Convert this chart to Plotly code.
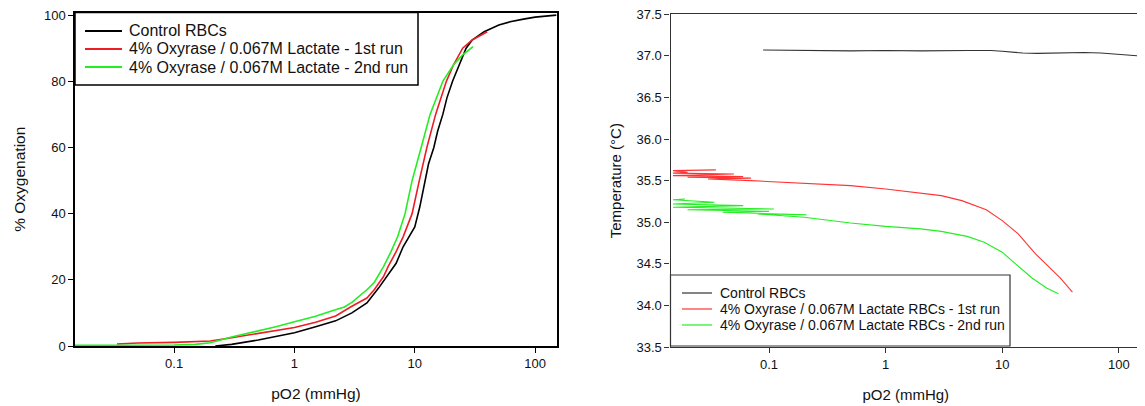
import plotly.graph_objects as go

# ---------------- Left panel: oxygen dissociation curves ----------------
ctrl_po2 = [0.22, 0.3, 0.5, 0.7, 1.0, 1.5, 2.2, 3.0, 4.0, 5.0, 6.0, 7.0, 8.0, 9.0, 10.0,
            11.0, 12.1, 13.0, 14.4, 15.5, 17.1, 18.5, 20.6, 23.3, 26.7, 30.0, 37.7,
            50.0, 62.0, 80.0, 100.0, 150.0]
ctrl_sat = [0.0, 0.5, 1.8, 2.8, 4.0, 5.8, 7.6, 10.0, 13.0, 17.5, 21.5, 25.0, 30.0, 33.0, 36.0,
            42.0, 50.0, 55.0, 60.0, 65.0, 70.0, 75.0, 80.0, 85.0, 90.0, 92.5, 95.0,
            97.0, 98.0, 98.8, 99.4, 100.0]

run1_po2 = [0.0335, 0.05, 0.1, 0.144, 0.2, 0.3, 0.5, 0.7, 1.0, 1.5, 2.2, 3.0, 4.0, 4.6,
            5.5, 6.0, 7.0, 8.0, 9.5, 10.9, 12.6, 14.9, 18.3, 21.0, 25.0, 30.0, 40.0]
run1_sat = [0.6, 0.9, 1.1, 1.3, 1.5, 2.5, 3.8, 4.8, 5.6, 7.2, 9.1, 12.0, 14.5, 17.0,
            21.0, 24.0, 28.5, 33.0, 40.0, 50.0, 60.0, 70.0, 80.0, 85.0, 90.0, 92.5, 95.0]

run2_po2 = [0.015, 0.05, 0.1, 0.15, 0.2, 0.3, 0.5, 0.7, 1.0, 1.5, 2.0, 2.6, 3.0, 4.0,
            4.6, 5.5, 6.3, 7.2, 8.3, 9.5, 11.3, 13.4, 17.1, 21.0, 25.0, 30.5]
run2_sat = [0.2, 0.2, 0.3, 0.5, 1.0, 2.7, 4.5, 5.8, 7.3, 9.0, 10.5, 11.8, 13.2, 17.0,
            19.2, 24.0, 28.3, 33.0, 40.0, 50.0, 60.0, 70.0, 80.0, 85.0, 88.0, 90.5]

# ---------------- Right panel: temperature vs pO2 ----------------
ctrl_t_po2 = [0.089, 0.2, 0.5, 1.0, 2.0, 5.0, 8.0, 10.0, 15.0, 20.0, 30.0, 50.0, 70.0, 100.0, 150.0]
ctrl_temp = [37.07, 37.065, 37.06, 37.065, 37.06, 37.065, 37.065, 37.055, 37.035, 37.03,
             37.035, 37.04, 37.035, 37.02, 37.0]

run1_t_po2 = [0.035, 0.015, 0.02, 0.015, 0.05, 0.015, 0.06, 0.02, 0.07, 0.03, 0.07, 0.1,
              0.2, 0.5, 1.0, 2.0, 3.0, 4.5, 6.0, 7.3, 10.0, 13.7, 19.3, 25.7, 31.4, 40.0]
run1_temp = [35.63, 35.62, 35.6, 35.59, 35.58, 35.56, 35.55, 35.54, 35.53, 35.52, 35.5, 35.49,
             35.47, 35.44, 35.4, 35.35, 35.32, 35.26, 35.2, 35.15, 35.02, 34.86, 34.62, 34.45,
             34.33, 34.16]

run2_t_po2 = [0.019, 0.015, 0.034, 0.015, 0.06, 0.015, 0.11, 0.02, 0.1, 0.04, 0.21, 0.08,
              0.2, 0.3, 0.5, 1.0, 2.0, 3.0, 5.0, 7.0, 10.0, 13.0, 18.0, 24.0, 30.3]
run2_temp = [35.28, 35.27, 35.24, 35.22, 35.2, 35.18, 35.16, 35.15, 35.13, 35.12, 35.09, 35.1,
             35.06, 35.03, 34.99, 34.95, 34.92, 34.89, 34.83, 34.76, 34.64, 34.5, 34.33,
             34.21, 34.14]

left_names = ["Control RBCs",
              "4% Oxyrase / 0.067M Lactate - 1st run",
              "4% Oxyrase / 0.067M Lactate - 2nd run"]
right_names = ["Control RBCs",
               "4% Oxyrase / 0.067M Lactate RBCs - 1st run",
               "4% Oxyrase / 0.067M Lactate RBCs - 2nd run"]

colors = ["#000000", "#ee1c24", "#22ee22"]
colors_r = ["#333333", "#ff3333", "#22ee22"]

# page has an 8px body margin: figure drawn 8px in from the top-left of the window
OFF = 8
W, H = 1145 - OFF, 406 - OFF
FONT = "Liberation Sans, Arial, sans-serif"


def px(x):
    return (x - OFF) / W


def py(y):
    return 1 - (y - OFF) / H


fig = go.Figure()
for xs, ys, name, c in zip([ctrl_po2, run1_po2, run2_po2],
                           [ctrl_sat, run1_sat, run2_sat], left_names, colors):
    fig.add_trace(go.Scatter(x=xs, y=ys, mode="lines", name=name, showlegend=False,
                             line=dict(color=c, width=1.6),
                             xaxis="x", yaxis="y"))
for xs, ys, name, c in zip([ctrl_t_po2, run1_t_po2, run2_t_po2],
                           [ctrl_temp, run1_temp, run2_temp], right_names, colors_r):
    fig.add_trace(go.Scatter(x=xs, y=ys, mode="lines", name=name, showlegend=False,
                             line=dict(color=c, width=1.1),
                             xaxis="x2", yaxis="y2"))

xticks = [0.1, 1, 10, 100]
xtext = ["0.1", "1", "10", "100"]

common_x = dict(type="log", tickvals=xticks, ticktext=xtext, ticks="outside", ticklen=5,
                showgrid=False, zeroline=False, showline=True, mirror=True, automargin=False,
                ticklabeloverflow="allow")

# ----- legends (drawn as framed boxes with line samples and text) -----
shapes = []
annotations = []


def add_legend(box, x0_line, x1_line, x_text, ys, names, cols, fsize, bcolor, bwidth, lw):
    bx0, by0, bx1, by1 = box
    shapes.append(dict(type="rect", xref="paper", yref="paper",
                       x0=px(bx0), x1=px(bx1), y0=py(by1), y1=py(by0),
                       line=dict(color=bcolor, width=bwidth), fillcolor="white", layer="above"))
    for yy, nm, cc in zip(ys, names, cols):
        shapes.append(dict(type="line", xref="paper", yref="paper",
                           x0=px(x0_line), x1=px(x1_line), y0=py(yy), y1=py(yy),
                           line=dict(color=cc, width=lw), layer="above"))
        annotations.append(dict(text=nm, xref="paper", yref="paper", x=px(x_text), y=py(yy),
                                xanchor="left", yanchor="middle", showarrow=False,
                                font=dict(size=fsize, family=FONT, color="#111111")))


add_legend((75, 12.5, 418, 85), 85, 122, 127, [31, 49, 67], left_names, colors,
           16, "black", 1.5, 1.8)
add_legend((670.5, 275, 1010, 346), 682, 712, 718, [293, 309, 325], right_names, colors_r,
           14, "#333333", 1.2, 1.2)

fig.update_layout(
    template="none",
    width=W, height=H,
    margin=dict(l=0, r=0, t=0, b=0, pad=0),
    paper_bgcolor="white", plot_bgcolor="white",
    font=dict(family=FONT, color="#111111"),
    showlegend=False,
    xaxis=dict(**common_x, domain=[px(75), px(557)], range=[-1.824, 2.182],
               linecolor="black", linewidth=1.5, tickcolor="black",
               tickfont=dict(size=13),
               title=dict(text="pO2 (mmHg)", font=dict(size=15.5), standoff=18),
               anchor="y"),
    yaxis=dict(domain=[py(346), py(12.5)], range=[0, 100.8],
               tickvals=[0, 20, 40, 60, 80, 100], ticks="outside", ticklen=5,
               showgrid=False, zeroline=False, showline=True, mirror=True, automargin=False,
               ticklabeloverflow="allow",
               linecolor="black", linewidth=1.5, tickcolor="black",
               tickfont=dict(size=13),
               title=dict(text="% Oxygenation", font=dict(size=15.5), standoff=15),
               anchor="x"),
    xaxis2=dict(**common_x, domain=[px(670.5), px(1141)], range=[-1.845, 2.19],
                linecolor="#333333", linewidth=1.2, tickcolor="#333333",
                tickfont=dict(size=13),
                title=dict(text="pO2 (mmHg)", font=dict(size=15), standoff=18),
                anchor="y2"),
    yaxis2=dict(domain=[py(347), py(14.3)], range=[33.5, 37.5],
                tickvals=[33.5, 34.0, 34.5, 35.0, 35.5, 36.0, 36.5, 37.0, 37.5],
                tickformat=".1f", ticks="outside", ticklen=5,
                showgrid=False, zeroline=False, showline=True, mirror=True, automargin=False,
                ticklabeloverflow="allow",
                linecolor="#333333", linewidth=1.2, tickcolor="#333333",
                tickfont=dict(size=13),
                title=dict(text="Temperature (°C)", font=dict(size=15), standoff=11),
                anchor="x2"),
    shapes=shapes,
    annotations=annotations,
)

fig.write_html("out.html")
